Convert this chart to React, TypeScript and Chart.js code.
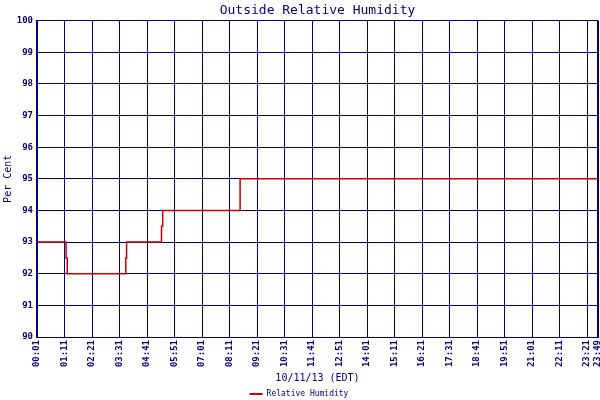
import { useEffect, useRef } from 'react';
import { Chart, ChartConfiguration, registerables } from 'chart.js';

Chart.register(...registerables);

// x axis tick labels (every 70 minutes, plus the last sample)
const tickLabels = [
  '00:01', '01:11', '02:21', '03:31', '04:41', '05:51', '07:01', '08:11',
  '09:21', '10:31', '11:41', '12:51', '14:01', '15:11', '16:21', '17:31',
  '18:41', '19:51', '21:01', '22:11', '23:21', '23:49',
];

// readings where the value changes (held until the next one)
const sampleTimes = ['00:01', '01:15', '01:18', '03:47', '03:49', '05:18', '05:21', '08:38', '23:49'];
const humidity = [93, 92.5, 92, 92.5, 93, 93.5, 94, 95, 95];

const NAVY = '#000080';
const RED = '#cc0000';
const MONO = '"DejaVu Sans Mono", "Liberation Mono", monospace';

const toMinutes = (t: string) => {
  const [h, m] = t.split(':').map(Number);
  return h * 60 + m;
};

export default function App() {
  const canvasRef = useRef<HTMLCanvasElement>(null);
  const chartRef = useRef<Chart | null>(null);

  useEffect(() => {
    if (!canvasRef.current) return;

    const tickValues = tickLabels.map(toMinutes);
    const lastTick = tickValues.length - 1;

    const config: ChartConfiguration<'line'> = {
      type: 'line',
      data: {
        datasets: [
          {
            label: 'Relative Humidity',
            data: sampleTimes.map((t, i) => ({ x: toMinutes(t), y: humidity[i] })),
            borderColor: RED,
            backgroundColor: RED,
            borderWidth: 1.5,
            pointRadius: 0,
            stepped: 'before',
            fill: false,
          },
        ],
      },
      options: {
        animation: false,
        responsive: true,
        maintainAspectRatio: false,
        layout: { padding: { left: 0, right: 2, top: 0, bottom: 0 } },
        plugins: {
          title: {
            display: true,
            text: 'Outside Relative Humidity',
            color: NAVY,
            fullSize: false,
            font: { family: MONO, size: 13, weight: 'normal' },
            padding: { top: 3, bottom: 2 },
          },
          legend: {
            position: 'bottom',
            maxHeight: 12,
            labels: {
              color: NAVY,
              font: { family: MONO, size: 8 },
              usePointStyle: true,
              pointStyle: 'line',
              pointStyleWidth: 13,
              padding: 2,
              generateLabels: (chart) =>
                Chart.defaults.plugins.legend.labels.generateLabels(chart).map((l) => ({
                  ...l,
                  lineWidth: 2,
                })),
            },
          },
          tooltip: { enabled: false },
        },
        scales: {
          x: {
            type: 'linear',
            min: tickValues[0],
            max: tickValues[lastTick],
            afterBuildTicks: (scale) => {
              scale.ticks = tickValues.map((v) => ({ value: v }));
            },
            afterFit: (scale) => {
              scale.height = 51;
              scale.paddingLeft = 0;
              scale.paddingRight = 0;
            },
            ticks: {
              autoSkip: false,
              minRotation: 90,
              maxRotation: 90,
              padding: 3,
              color: NAVY,
              font: { family: MONO, size: 9, weight: 'bold' },
              callback: (_v, i) => tickLabels[i],
            },
            grid: {
              color: NAVY,
              lineWidth: (ctx) => (ctx.index === lastTick ? 2 : 1),
              drawTicks: false,
            },
            border: { color: NAVY, width: 1 },
            title: {
              display: true,
              text: '10/11/13 (EDT)',
              color: NAVY,
              font: { family: MONO, size: 10 },
              padding: { top: 0, bottom: 4 },
            },
          },
          y: {
            min: 90,
            max: 100,
            afterFit: (scale) => {
              scale.width = 37;
            },
            ticks: {
              stepSize: 1,
              padding: 4,
              color: NAVY,
              font: { family: MONO, size: 9, weight: 'bold' },
            },
            grid: { color: NAVY, lineWidth: 1, drawTicks: false },
            border: { color: NAVY, width: 2 },
            title: {
              display: true,
              text: 'Per Cent',
              color: NAVY,
              font: { family: MONO, size: 10 },
              padding: { top: 2, bottom: 2 },
            },
          },
        },
      },
    };

    chartRef.current?.destroy();
    chartRef.current = new Chart(canvasRef.current, config);
    return () => {
      chartRef.current?.destroy();
      chartRef.current = null;
    };
  }, []);

  return (
    <div style={{ position: 'absolute', left: 0, top: 0, width: 600, height: 400, background: '#fff' }}>
      <canvas ref={canvasRef} />
    </div>
  );
}
